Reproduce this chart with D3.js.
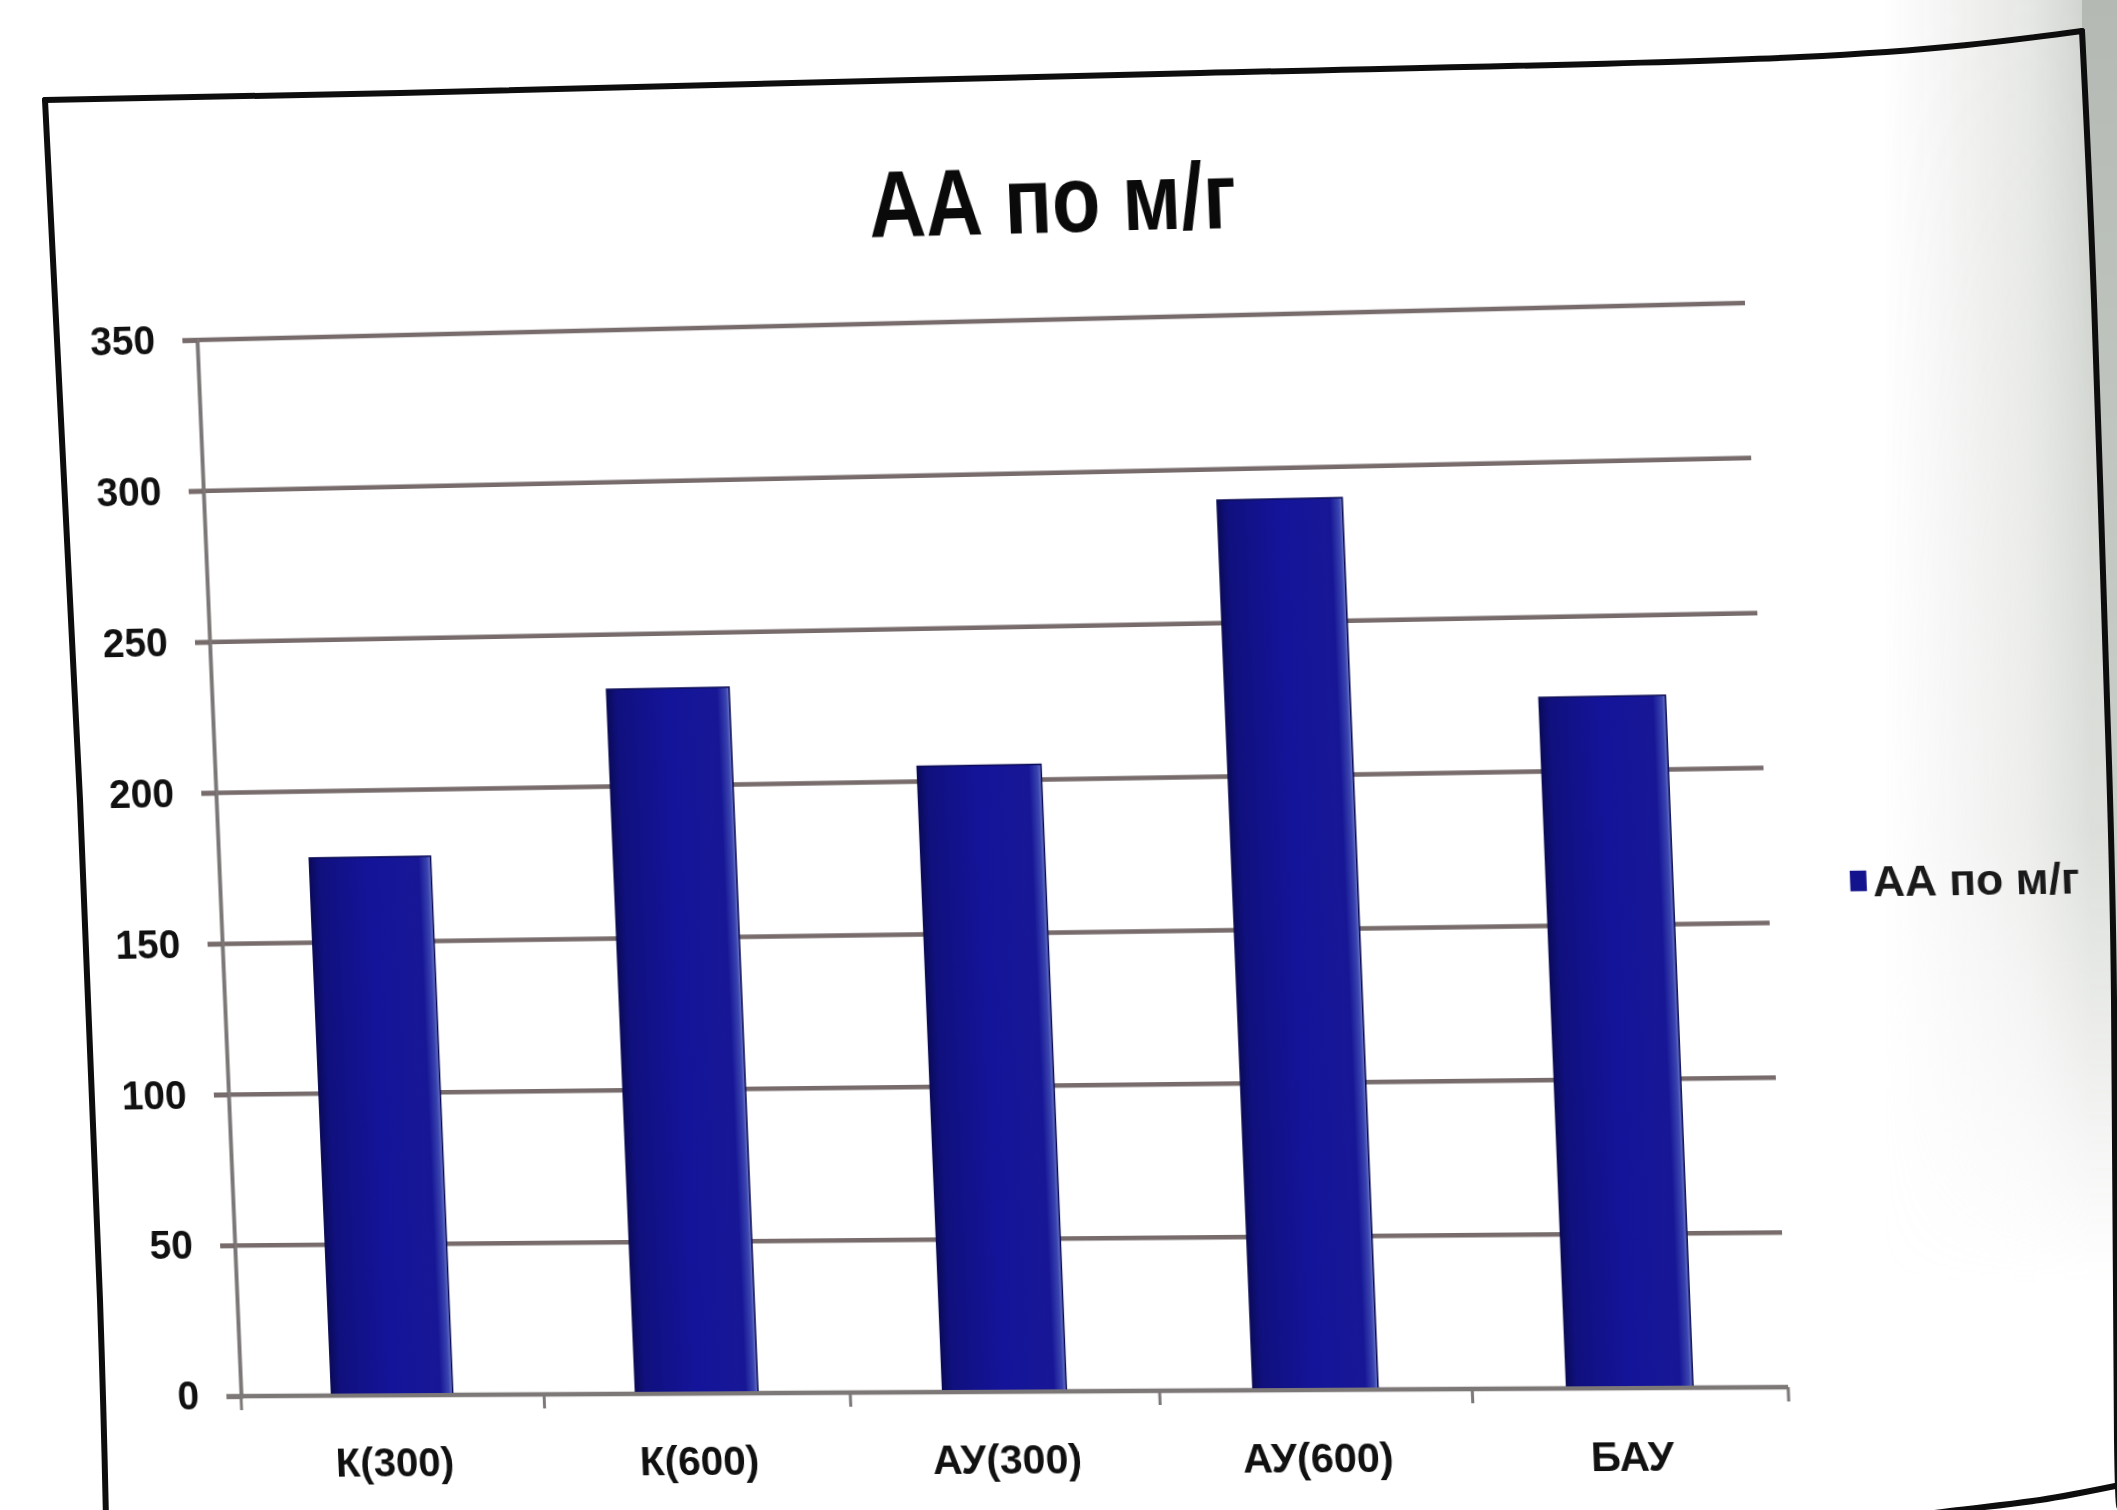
<!DOCTYPE html>
<html>
<head>
<meta charset="utf-8">
<script src="https://cdn.jsdelivr.net/npm/d3@7"></script>
<style>
  html, body { margin: 0; padding: 0; background: #fff; }
  #page { position: relative; width: 2117px; height: 1510px; overflow: hidden; background: #fff; filter: blur(0.6px); }
  #page svg { position: absolute; left: 0; top: 0; }
  #chart { transform-origin: 0 0; }
</style>
</head>
<body>
<div id="page">
  <svg id="paper" width="2117" height="1510"></svg>
  <svg id="chart" width="2300" height="1650"></svg>
  <svg id="frame" width="2117" height="1510"></svg>
</div>
<script>
// ---- data ----
const title = "АА по м/г";
const seriesName = "АА по м/г";
const categories = ["К(300)", "К(600)", "АУ(300)", "АУ(600)", "БАУ"];
const values = [178, 232, 205, 290, 224];
const yTicks = [0, 50, 100, 150, 200, 250, 300, 350];
const yMax = 350;

// ---- layout (flat chart space) ----
const ml = 300, mt = 300, W = 1547, H = 1056;
const barColor = "#13138e";
const gridColor = "#776b6b";
const fontFamily = "'Liberation Sans Narrow','Liberation Sans',Arial,sans-serif";

// The sheet is seen at a slight angle: the flat chart is warped onto the page
// with a projective transform fitted to the four corners of the plot area.
const plotOnPage = [[197, 340], [1745, 303], [241, 1396], [1788, 1387]];
const plotFlat = [[ml, mt], [ml + W, mt], [ml, mt + H], [ml + W, mt + H]];

function solve(A, b) {
  const n = b.length;
  const M = A.map((r, i) => r.concat([b[i]]));
  for (let c = 0; c < n; c++) {
    let p = c;
    for (let r = c + 1; r < n; r++) if (Math.abs(M[r][c]) > Math.abs(M[p][c])) p = r;
    [M[c], M[p]] = [M[p], M[c]];
    for (let r = 0; r < n; r++) {
      if (r === c) continue;
      const f = M[r][c] / M[c][c];
      for (let k = c; k <= n; k++) M[r][k] -= f * M[c][k];
    }
  }
  return M.map((r, i) => r[n] / r[i]);
}
function homography(src, dst) {
  const A = [], b = [];
  src.forEach(([x, y], i) => {
    const [u, v] = dst[i];
    A.push([x, y, 1, 0, 0, 0, -x * u, -y * u]); b.push(u);
    A.push([0, 0, 0, x, y, 1, -x * v, -y * v]); b.push(v);
  });
  return solve(A, b);
}
const Hm = homography(plotFlat, plotOnPage);
const Hinv = homography(plotOnPage, plotFlat);
function apply(h, x, y) {
  const w = h[6] * x + h[7] * y + 1;
  return [(h[0] * x + h[1] * y + h[2]) / w, (h[3] * x + h[4] * y + h[5]) / w];
}
const toFlat = (x, y) => apply(Hinv, x, y);

d3.select("#chart").style("transform",
  `matrix3d(${Hm[0]},${Hm[3]},0,${Hm[6]},${Hm[1]},${Hm[4]},0,${Hm[7]},0,0,1,0,${Hm[2]},${Hm[5]},0,1)`);

// ---- border of the sheet (slightly curved paper) ----
const edge = d3.line().curve(d3.curveNatural);
const rightEdge = [[2082, 31], [2094, 300], [2107, 700], [2114, 1000], [2117, 1440], [2122, 1484]];
const border = [
  [[45, 100], [400, 93], [1200, 73], [1800, 57], [2082, 31]],
  rightEdge,
  [[45, 100], [80, 800], [100, 1300], [106, 1520]],
  [[2125, 1484], [2040, 1500], [1950, 1511], [1850, 1525]]
];

// ---- paper shading near the right edge ----
const paper = d3.select("#paper");
const defsP = paper.append("defs");
const hg = defsP.append("linearGradient").attr("id", "edgeShade")
  .attr("gradientUnits", "userSpaceOnUse").attr("x1", 1880).attr("x2", 2090).attr("y1", 0).attr("y2", 0);
hg.append("stop").attr("offset", 0).attr("stop-color", "#d2d5d0").attr("stop-opacity", 0);
hg.append("stop").attr("offset", 0.7).attr("stop-color", "#d2d5d0").attr("stop-opacity", 0.55);
hg.append("stop").attr("offset", 1).attr("stop-color", "#c8ccc6").attr("stop-opacity", 0.9);
const vg = defsP.append("linearGradient").attr("id", "fadeDown")
  .attr("gradientUnits", "userSpaceOnUse").attr("x1", 0).attr("x2", 0).attr("y1", 0).attr("y2", 1510);
vg.append("stop").attr("offset", 0).attr("stop-color", "#fff").attr("stop-opacity", 1);
vg.append("stop").attr("offset", 0.55).attr("stop-color", "#fff").attr("stop-opacity", 0.7);
vg.append("stop").attr("offset", 0.85).attr("stop-color", "#fff").attr("stop-opacity", 0);
defsP.append("mask").attr("id", "fadeMask")
  .append("rect").attr("width", 2117).attr("height", 1510).attr("fill", "url(#fadeDown)");
const shade = paper.append("g").attr("mask", "url(#fadeMask)");
shade.append("rect").attr("x", 1880).attr("width", 237).attr("height", 1510).attr("fill", "url(#edgeShade)");
// the desk seen beyond the right edge of the sheet
const outside = rightEdge.concat([[2140, 1484], [2140, 0], [2082, 0]]);
shade.append("path").attr("d", d3.line()(outside)).attr("fill", "#b4bab3");

// ---- chart ----
const svg = d3.select("#chart");
const defs = svg.append("defs");
const bg = defs.append("linearGradient").attr("id", "barFill").attr("x1", 0).attr("x2", 1).attr("y1", 0).attr("y2", 0);
[[0, "#0a0a5c"], [0.08, "#10107e"], [0.5, "#14149a"], [0.9, "#171796"], [0.97, "#3a44b0"], [1, "#6c7ccc"]]
  .forEach(([o, c]) => bg.append("stop").attr("offset", o).attr("stop-color", c));

const g = svg.append("g").attr("transform", `translate(${ml},${mt})`);

const x = d3.scaleBand().domain(categories).range([0, W]).paddingInner(0.6).paddingOuter(0.3);
const y = d3.scaleLinear().domain([0, yMax]).range([H, 0]);

// horizontal gridlines with outside tick marks
g.append("g").selectAll("line").data(yTicks).join("line")
  .attr("x1", -15).attr("x2", W)
  .attr("y1", d => y(d)).attr("y2", d => y(d))
  .attr("stroke", gridColor).attr("stroke-width", 4.5);

// value axis
const yAxis = g.append("g").call(d3.axisLeft(y).tickValues(yTicks).tickSize(15).tickPadding(28));
yAxis.select(".domain").attr("stroke", "#7d7878").attr("stroke-width", 4);
yAxis.selectAll(".tick line").attr("stroke", gridColor).attr("stroke-width", 4.5);
yAxis.selectAll(".tick text")
  .attr("font-family", fontFamily).attr("font-weight", "bold").attr("font-size", 40).attr("fill", "#111");

// bars
g.append("g").selectAll("rect").data(values).join("rect")
  .attr("x", (d, i) => x(categories[i]))
  .attr("width", x.bandwidth())
  .attr("y", d => y(d))
  .attr("height", d => H - y(d))
  .attr("fill", "url(#barFill)")
  .attr("stroke", "#0b0b55").attr("stroke-width", 1.5);

// category axis
const xAxis = g.append("g").attr("transform", `translate(0,${H})`)
  .call(d3.axisBottom(x).tickSize(0).tickPadding(52));
xAxis.select(".domain").remove();
xAxis.selectAll(".tick text")
  .attr("font-family", fontFamily).attr("font-weight", "bold").attr("font-size", 41).attr("fill", "#111");
g.append("line").attr("x1", -15).attr("x2", W).attr("y1", H).attr("y2", H)
  .attr("stroke", "#7d7878").attr("stroke-width", 4);
const bounds = d3.range(categories.length + 1).map(i => i * x.step());
g.append("g").selectAll("line").data(bounds).join("line")
  .attr("x1", d => d).attr("x2", d => d).attr("y1", H).attr("y2", H + 14)
  .attr("stroke", "#7d7878").attr("stroke-width", 3);

// title
const tp = toFlat(1053, 232);
svg.append("text").attr("x", tp[0]).attr("y", tp[1])
  .attr("text-anchor", "middle")
  .attr("font-family", fontFamily).attr("font-weight", "bold").attr("font-size", 92)
  .attr("textLength", 366).attr("lengthAdjust", "spacingAndGlyphs")
  .attr("fill", "#0a0a0a").text(title);

// legend
const lp = toFlat(1850, 881);
const legend = svg.append("g").attr("transform", `translate(${lp[0]},${lp[1]})`);
legend.append("rect").attr("x", 0).attr("y", -10).attr("width", 16).attr("height", 20).attr("fill", barColor);
legend.append("text").attr("x", 22).attr("y", 0).attr("dy", "0.35em")
  .attr("font-family", fontFamily).attr("font-weight", "bold").attr("font-size", 42)
  .attr("textLength", 200).attr("lengthAdjust", "spacingAndGlyphs")
  .attr("fill", "#1a1a1a").text(seriesName);

// ---- draw the sheet border on top ----
d3.select("#frame").selectAll("path").data(border).join("path")
  .attr("d", edge).attr("fill", "none").attr("stroke", "#0d0d0d").attr("stroke-width", 6)
  .attr("stroke-linecap", "round");
</script>
</body>
</html>
